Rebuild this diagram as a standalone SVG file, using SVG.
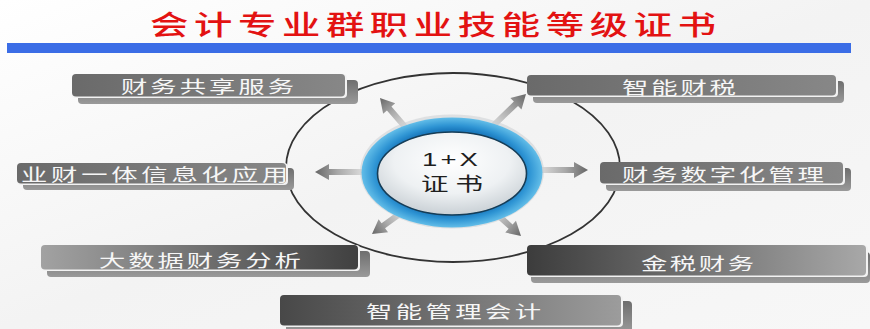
<svg xmlns="http://www.w3.org/2000/svg" width="870" height="329" viewBox="0 0 870 329">
<defs>
<style>
.t{font-family:"Noto Sans CJK SC","Liberation Sans",sans-serif;}
.bt{font-family:"Noto Sans CJK SC","Liberation Sans",sans-serif;font-size:17px;fill:#f6f6f6;}
.sh{fill:#7e7e7e;}
.hl{fill:#f2f2f2;}
.ring{fill:none;stroke:#333;stroke-width:1.8;}
</style>
<linearGradient id="bg" x1="0" y1="0" x2="1" y2="1">
<stop offset="0" stop-color="#ffffff"/>
<stop offset="0.5" stop-color="#f3f3f3"/>
<stop offset="1" stop-color="#f7f7f7"/>
</linearGradient>
<linearGradient id="gA" x1="0" y1="0" x2="1" y2="0">
<stop offset="0" stop-color="#6a6a6a"/>
<stop offset="1" stop-color="#878787"/>
</linearGradient>
<linearGradient id="gB" x1="0" y1="0" x2="1" y2="0">
<stop offset="0" stop-color="#a2a2a2"/>
<stop offset="1" stop-color="#404040"/>
</linearGradient>
<linearGradient id="gC" x1="0" y1="0" x2="1" y2="0">
<stop offset="0" stop-color="#3c3c3c"/>
<stop offset="1" stop-color="#a8a8a8"/>
</linearGradient>
<linearGradient id="gD" x1="0" y1="0" x2="1" y2="0">
<stop offset="0" stop-color="#484848"/>
<stop offset="1" stop-color="#9c9c9c"/>
</linearGradient>
<linearGradient id="gS" x1="0" y1="0" x2="0" y2="1">
<stop offset="0" stop-color="#6e6e6e"/>
<stop offset="1" stop-color="#9a9a9a"/>
</linearGradient>
<linearGradient id="ag" x1="0" y1="0" x2="1" y2="0">
<stop offset="0" stop-color="#e0e0e0"/>
<stop offset="0.55" stop-color="#a8a8a8"/>
<stop offset="1" stop-color="#666666"/>
</linearGradient>
<radialGradient id="blue" cx="0.5" cy="0.5" r="0.5">
<stop offset="0.78" stop-color="#1c7cc0"/>
<stop offset="0.86" stop-color="#2f95d4"/>
<stop offset="1" stop-color="#62bde8"/>
</radialGradient>
<radialGradient id="disc" cx="0.5" cy="0.35" r="0.65">
<stop offset="0" stop-color="#ffffff"/>
<stop offset="0.6" stop-color="#eef1f3"/>
<stop offset="1" stop-color="#c9d0d5"/>
</radialGradient>
</defs>

<rect x="0" y="0" width="870" height="329" fill="url(#bg)"/>

<g id="title">
<text class="t" x="0" y="0" transform="translate(150,34.5) scale(1.42,1)" font-size="27" font-weight="500" fill="#e31212" textLength="398.6" lengthAdjust="spacing">会计专业群职业技能等级证书</text>
</g>
<g id="bar">
<rect x="7" y="43" width="844" height="10" fill="#3b6de6"/>
</g>

<g id="orbit">
<ellipse class="ring" cx="453" cy="167.5" rx="167" ry="94.5"/>
</g>

<g id="connectors">
<g fill="url(#ag)">
<polygon points="0,0 -14,-8 -14,-3 -40,-3 -40,3 -14,3 -14,8" transform="translate(380,98) rotate(-131)"/>
<polygon points="0,0 -14,-8 -14,-3 -48,-3 -48,3 -14,3 -14,8" transform="translate(526,94) rotate(-44)"/>
<polygon points="0,0 -14,-8 -14,-3 -50,-3 -50,3 -14,3 -14,8" transform="translate(315,172) rotate(180)"/>
<polygon points="0,0 -14,-8 -14,-3 -50,-3 -50,3 -14,3 -14,8" transform="translate(588,170)"/>
<polygon points="0,0 -14,-8 -14,-3 -40,-3 -40,3 -14,3 -14,8" transform="translate(372,234) rotate(144)"/>
<polygon points="0,0 -14,-8 -14,-3 -40,-3 -40,3 -14,3 -14,8" transform="translate(521,236) rotate(42)"/>
</g>
</g>

<g id="center">
<ellipse cx="452" cy="171.5" rx="92" ry="57" fill="#c8ccd0" opacity="0.5"/>
<ellipse cx="452" cy="172.5" rx="90.5" ry="55" fill="url(#blue)"/>
<ellipse cx="452" cy="173.5" rx="74.5" ry="41.5" fill="url(#disc)" stroke="#163d57" stroke-width="1.6"/>
<text x="0" y="0" transform="translate(422,166) scale(1.45,1)" font-family="Liberation Sans, Arial, sans-serif" font-size="19" fill="#1e1e1e" textLength="38.6" lengthAdjust="spacing">1+X</text>
<text class="t" x="0" y="0" transform="translate(421,191) scale(1.45,1)" font-size="19" fill="#1e1e1e" textLength="42.8" lengthAdjust="spacing">证书</text>
</g>

<g id="n1">
<rect x="78" y="80" width="280" height="24" rx="4" fill="url(#gS)"/>
<rect x="72" y="74" width="275" height="24" rx="4" class="hl"/>
<rect x="72" y="74" width="273" height="22.5" rx="4" fill="url(#gA)"/>
<text class="bt" x="0" y="0" transform="translate(121,92.8) scale(1.55,1)" textLength="111.6" lengthAdjust="spacing">财务共享服务</text>
</g>

<g id="n2">
<rect x="533" y="81" width="311" height="22" rx="4" fill="url(#gS)"/>
<rect x="527" y="75" width="311" height="22" rx="4" class="hl"/>
<rect x="527" y="75" width="309" height="20.5" rx="4" fill="url(#gA)"/>
<text class="bt" x="0" y="0" transform="translate(622,93.5) scale(1.55,1)" textLength="73.5" lengthAdjust="spacing">智能财税</text>
</g>

<g id="n3">
<rect x="23" y="168" width="271" height="22" rx="4" fill="url(#gS)"/>
<rect x="17" y="163" width="271" height="22" rx="4" class="hl"/>
<rect x="17" y="163" width="269" height="20.5" rx="4" fill="url(#gA)"/>
<text class="bt" x="0" y="0" transform="translate(21,180.5) scale(1.55,1)" textLength="172.3" lengthAdjust="spacing">业财一体信息化应用</text>
</g>

<g id="n4">
<rect x="606" y="168" width="245" height="23" rx="4" fill="url(#gS)"/>
<rect x="600" y="162" width="245" height="23" rx="4" class="hl"/>
<rect x="600" y="162" width="243" height="21.5" rx="4" fill="url(#gA)"/>
<text class="bt" x="0" y="0" transform="translate(622,181) scale(1.55,1)" textLength="130.3" lengthAdjust="spacing">财务数字化管理</text>
</g>

<g id="n5">
<rect x="47" y="251" width="323" height="26" rx="4" fill="url(#gS)"/>
<rect x="41" y="245" width="319" height="26" rx="4" class="hl"/>
<rect x="41" y="245" width="317" height="24.5" rx="4" fill="url(#gB)"/>
<text class="bt" x="0" y="0" transform="translate(99,267) scale(1.55,1)" textLength="130.3" lengthAdjust="spacing">大数据财务分析</text>
</g>

<g id="n6">
<rect x="531" y="252" width="339" height="31" rx="4" fill="url(#gS)"/>
<rect x="527" y="245" width="341" height="32" rx="4" class="hl"/>
<rect x="527" y="245" width="339" height="30.5" rx="4" fill="url(#gC)"/>
<text class="bt" x="0" y="0" transform="translate(641,269.8) scale(1.55,1)" textLength="72.9" lengthAdjust="spacing">金税财务</text>
</g>

<g id="n7">
<rect x="286" y="301" width="346" height="32" rx="4" fill="url(#gS)"/>
<rect x="280" y="295" width="343" height="32" rx="4" class="hl"/>
<rect x="280" y="295" width="341" height="30.5" rx="4" fill="url(#gD)"/>
<text class="bt" x="0" y="0" transform="translate(366,318) scale(1.55,1)" textLength="112.9" lengthAdjust="spacing">智能管理会计</text>
</g>
</svg>
